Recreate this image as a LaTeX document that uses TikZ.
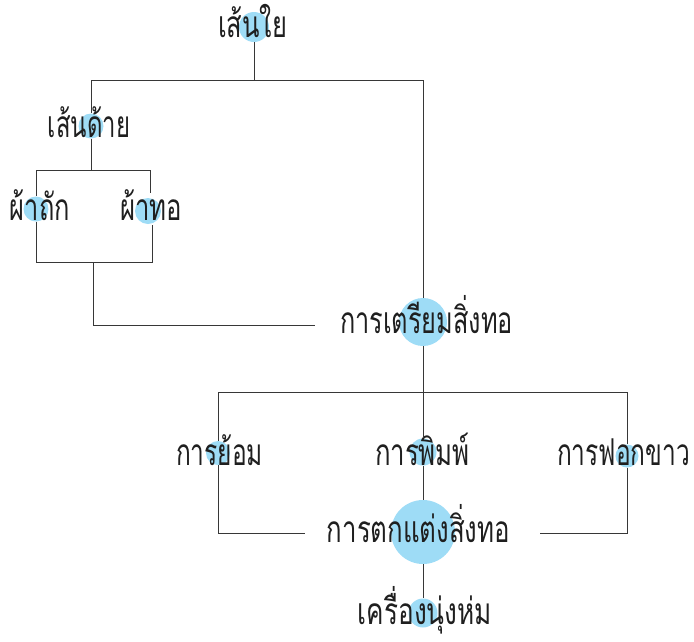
\documentclass[tikz,border=0pt]{standalone}
\usepackage{fontspec}
\usepackage{graphicx}
\newfontfamily\thaifont[Script=Thai]{Loma}
\definecolor{dotc}{RGB}{158,220,246}
\definecolor{lnc}{RGB}{55,55,55}
\newcommand\tw[2]{\resizebox{#1pt}{\height}{#2}}
\begin{document}
\begin{tikzpicture}[x=1pt,y=-1pt,
  dot/.style={circle,fill=dotc,inner sep=0pt,minimum size=#1pt},
  lbl/.style={inner sep=0pt,anchor=base,text=black!88,font=\thaifont\fontsize{37}{37}\selectfont},
  conn/.style={draw=lnc,line width=0.9pt}]
\useasboundingbox (0,0) rectangle (694,641);
% circles
\node[dot=30] (c1) at (254,27) {};
\node[dot=25] (c2) at (91,126) {};
\node[dot=25] (c3) at (36,209) {};
\node[dot=26] (c4) at (148,211) {};
\node[dot=48] (c5) at (423,322) {};
\node[dot=24] (c6) at (218,453) {};
\node[dot=27] (c7) at (423,452) {};
\node[dot=23] (c8) at (627,456) {};
\node[dot=64] (c9) at (423,532) {};
\node[dot=29] (c10) at (423,613) {};
% labels
\node[lbl] (t1) at (252.5,37) {\tw{69}{เส้นใย}};
\node[lbl] (t2) at (89,137) {\tw{82}{เส้นด้าย}};
\node[lbl] (t3) at (40,220) {\tw{60}{ผ้าถัก}};
\node[lbl] (t4) at (151,220) {\tw{62}{ผ้าทอ}};
\node[lbl] (t5) at (426.5,333) {\tw{173}{การเตรียมสิ่งทอ}};
\node[lbl] (t6) at (219.5,465) {\tw{87}{การย้อม}};
\node[lbl] (t7) at (422.5,465) {\tw{95}{การพิมพ์}};
\node[lbl] (t8) at (623.5,465) {\tw{133}{การฟอกขาว}};
\node[lbl] (t9) at (418.5,542) {\tw{183}{การตกแต่งสิ่งทอ}};
\node[lbl] (t10) at (425,624) {\tw{134}{เครื่องนุ่งห่ม}};
% junction coordinates
\coordinate (h1) at (0,80);
\coordinate (h2) at (0,170);
\coordinate (h3) at (0,262);
\coordinate (h4) at (0,325);
\coordinate (h5) at (0,392);
\coordinate (h6) at (0,533);
\coordinate (e1) at (315,325);
\coordinate (e2) at (305,533);
\coordinate (e3) at (540,533);
\coordinate (m1) at (93,262);
% connectors
\draw[conn] (c1.south) -- (c1.south |- h1);
\draw[conn] (c2.north |- h1) -- (c5.north |- h1);
\draw[conn] (c2.north |- h1) -- (c2.north);
\draw[conn] (c5.north |- h1) -- (c5.north);
\draw[conn] (c2.south) -- (c2.south |- h2);
\draw[conn] (c3.north |- h2) -- (150,170) -- (150,193);
\draw[conn] (c3.north |- h2) -- (c3.north);
\draw[conn] (c3.south) -- (c3.south |- h3) -- (152,262) -- (152,225);
\draw[conn] (m1) -- (m1 |- h4) -- (e1);
\draw[conn] (c5.south) -- (c5.south |- h5);
\draw[conn] (c6.north |- h5) -- (c8.north |- h5);
\draw[conn] (c6.north |- h5) -- (c6.north);
\draw[conn] (c7.north |- h5) -- (c7.north);
\draw[conn] (c8.north |- h5) -- (c8.north);
\draw[conn] (c6.south) -- (c6.south |- h6) -- (e2);
\draw[conn] (c8.south) -- (c8.south |- h6) -- (e3);
\draw[conn] (c7.south) -- (c9.north);
\draw[conn] (c9.south) -- (c10.north);
\end{tikzpicture}
\end{document}
